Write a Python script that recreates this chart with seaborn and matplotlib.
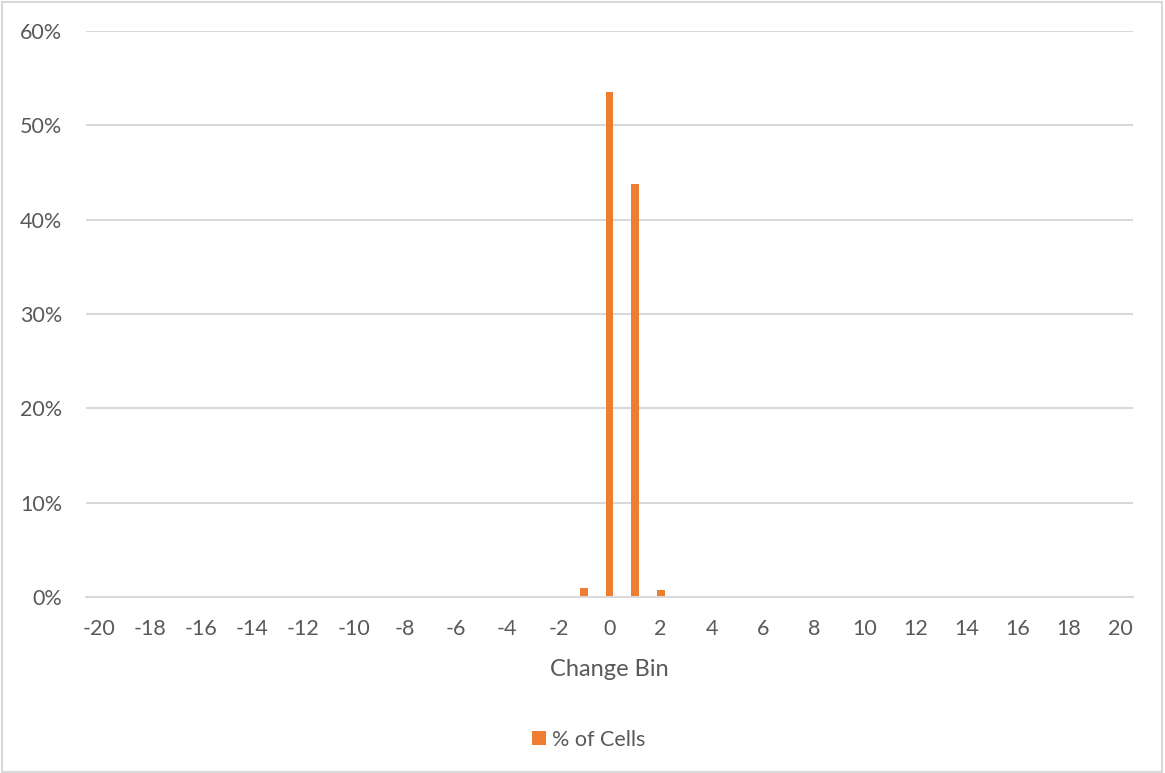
import matplotlib
matplotlib.use("Agg")
import matplotlib.pyplot as plt
import seaborn as sns
import pandas as pd
from matplotlib.patches import Rectangle
from matplotlib.ticker import FuncFormatter

# Change bins and share of cells per bin (percent)
change_bins = list(range(-20, 21))
nonzero_bins = [-1, 0, 1, 2]
nonzero_pct = [1.0, 53.5, 43.8, 0.7]
pct_cells = [nonzero_pct[nonzero_bins.index(b)] if b in nonzero_bins else 0.0
             for b in change_bins]
series_name = "% of Cells"
y_ticks = [0, 10, 20, 30, 40, 50, 60]

df = pd.DataFrame({"Change Bin": change_bins, series_name: pct_cells})

sns.set_theme(style="white")
plt.rcParams["font.family"] = ["Lato", "DejaVu Sans"]

text_color = "#595959"
grid_color = "#D9D9D9"
bar_color = "#ED7D31"

fig = plt.figure(figsize=(11.65, 7.73), dpi=100)
ax = fig.add_axes([86 / 1165, 1 - 597 / 773, (1133 - 86) / 1165, (597 - 31) / 773])

sns.barplot(data=df, x="Change Bin", y=series_name, order=change_bins,
            color=bar_color, saturation=1, width=0.31, ax=ax,
            label=series_name, linewidth=0)

ax.set_ylim(0, 60)
ax.set_yticks(y_ticks)
ax.yaxis.set_major_formatter(FuncFormatter(lambda v, _: f"{v:.0f}%"))
ax.set_xlim(-0.5, len(change_bins) - 0.5)
tick_pos = list(range(0, len(change_bins), 2))
ax.set_xticks(tick_pos)
ax.set_xticklabels([str(change_bins[i]) for i in tick_pos])

ax.grid(axis="y", color=grid_color, linewidth=1.5)
ax.set_axisbelow(True)
for s in ["top", "right", "left"]:
    ax.spines[s].set_visible(False)
ax.spines["bottom"].set_color(grid_color)
ax.spines["bottom"].set_linewidth(1.5)
ax.tick_params(axis="both", length=0, labelsize=15.5, colors=text_color)
ax.tick_params(axis="y", pad=17)
ax.tick_params(axis="x", pad=16)

ax.set_xlabel("Change Bin", fontsize=17, color=text_color, labelpad=14)
ax.set_ylabel("")

leg = ax.legend(loc="center", bbox_to_anchor=(0.48, -0.252), frameon=False,
                fontsize=15.5, handlelength=0.65, handleheight=0.65,
                handletextpad=0.25)
for t in leg.get_texts():
    t.set_color(text_color)

# chart area border
fig.patches.append(Rectangle((2 / 1165, 1 / 773), 1160 / 1165, 770 / 773,
                             transform=fig.transFigure, fill=False,
                             edgecolor=grid_color, linewidth=1.5))

fig.savefig("out.png", dpi=100, facecolor="white")
